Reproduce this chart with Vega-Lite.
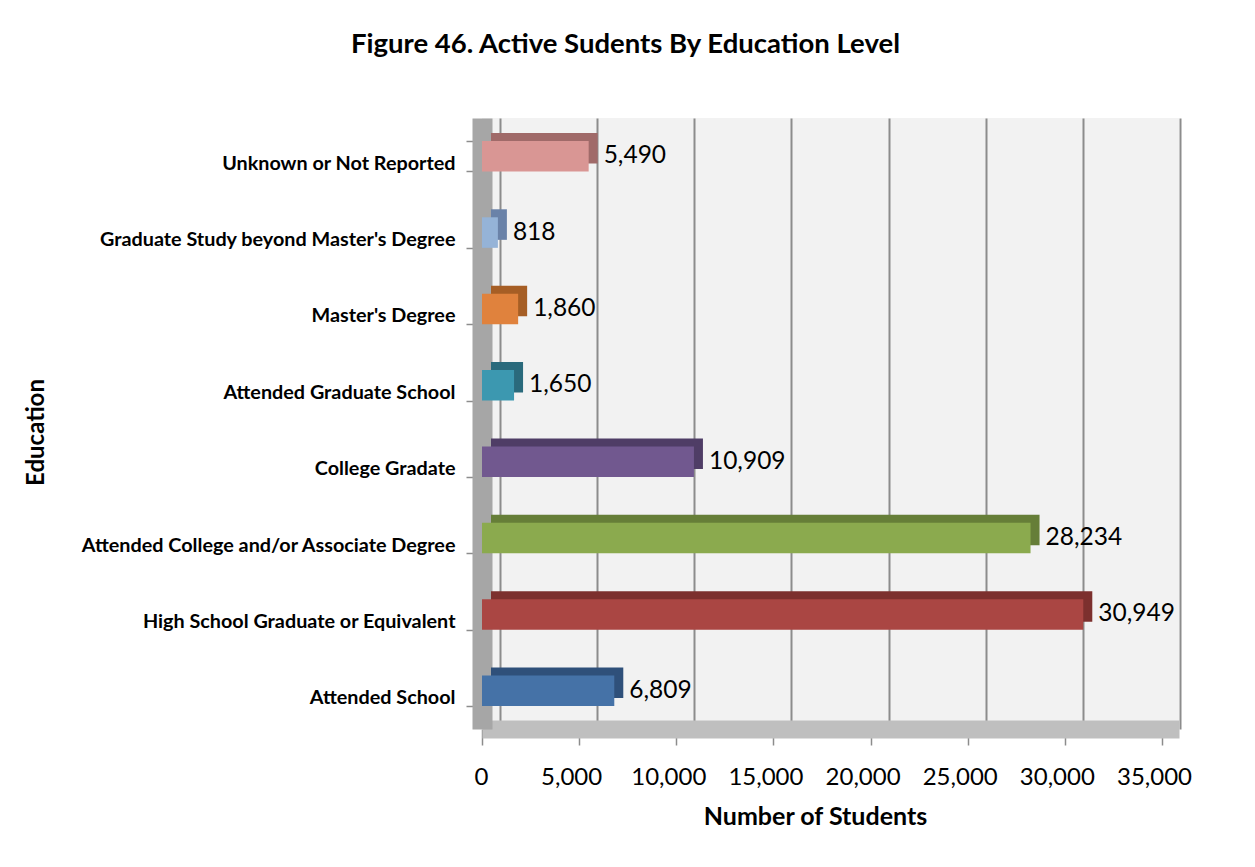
{
  "$schema": "https://vega.github.io/schema/vega-lite/v6.json",
  "autosize": "none",
  "width": 697,
  "height": 611,
  "padding": {"left": 482, "top": 118, "right": 76, "bottom": 138},
  "background": "white",
  "config": {
    "font": "Lato",
    "view": {"fill": "#f2f2f2", "stroke": null},
    "axis": {"labelLimit": 600}
  },
  "title": {
    "text": "Figure 46. Active Sudents By Education Level",
    "font": "Lato",
    "fontSize": 27.5,
    "fontWeight": "bold",
    "color": "#000000",
    "anchor": "middle",
    "frame": "group",
    "dx": -205,
    "offset": 50
  },
  "data": {
    "values": [
      {"education": "Unknown or Not Reported", "students": 5490},
      {"education": "Graduate Study beyond Master's Degree", "students": 818},
      {"education": "Master's Degree", "students": 1860},
      {"education": "Attended Graduate School", "students": 1650},
      {"education": "College Gradate", "students": 10909},
      {"education": "Attended College and/or Associate Degree", "students": 28234},
      {"education": "High School Graduate or Equivalent", "students": 30949},
      {"education": "Attended School", "students": 6809}
    ]
  },
  "resolve": {"scale": {"color": "independent"}, "axis": {"x": "independent"}},
  "layer": [
    {
      "mark": {"type": "bar", "xOffset": 9, "x2Offset": 9, "yOffset": -8, "y2Offset": -8},
      "encoding": {
        "y": {
          "field": "education", "type": "nominal", "sort": null,
          "scale": {"paddingInner": 0.6, "paddingOuter": 0.3},
          "axis": {
            "title": "Education", "titleFont": "Lato", "titleFontSize": 24, "titleFontWeight": "bold", "titleColor": "#000000", "titleX": -434, "titleY": 314,
            "labelFont": "Lato", "labelFontSize": 19.8, "labelFontWeight": "bold", "labelColor": "#000000", "labelLimit": 600,
            "labelOffset": 7, "labelPadding": 11,
            "tickBand": "extent", "tickSize": 16, "tickColor": "#8c8c8c", "tickWidth": 1.5,
            "domainColor": "#a6a6a6", "domainWidth": 20,
            "grid": false
          }
        },
        "x": {
          "field": "students", "type": "quantitative",
          "scale": {"domain": [0, 35875], "nice": false},
          "axis": {
            "orient": "bottom", "values": [0, 5000, 10000, 15000, 20000, 25000, 30000, 35000],
            "grid": true, "gridColor": "#8c8c8c", "gridWidth": 2, "tickOffset": 18,
            "labels": false, "ticks": false, "domain": false, "title": null
          }
        },
        "color": {
          "field": "education", "type": "nominal", "legend": null,
          "scale": {
            "domain": ["Unknown or Not Reported", "Graduate Study beyond Master's Degree", "Master's Degree", "Attended Graduate School", "College Gradate", "Attended College and/or Associate Degree", "High School Graduate or Equivalent", "Attended School"],
            "range": ["#a06a69", "#6a82a8", "#a65e25", "#2a6a7c", "#4f3d66", "#667e38", "#7c302e", "#2f507a"]
          }
        }
      }
    },
    {
      "mark": {"type": "bar"},
      "encoding": {
        "y": {
          "field": "education", "type": "nominal", "sort": null,
          "scale": {"paddingInner": 0.6, "paddingOuter": 0.3},
          "axis": {
            "title": "Education", "titleFont": "Lato", "titleFontSize": 24, "titleFontWeight": "bold", "titleColor": "#000000", "titleX": -434, "titleY": 314,
            "labelFont": "Lato", "labelFontSize": 19.8, "labelFontWeight": "bold", "labelColor": "#000000", "labelLimit": 600,
            "labelOffset": 7, "labelPadding": 11,
            "tickBand": "extent", "tickSize": 16, "tickColor": "#8c8c8c", "tickWidth": 1.5,
            "domainColor": "#a6a6a6", "domainWidth": 20,
            "grid": false
          }
        },
        "x": {
          "field": "students", "type": "quantitative",
          "scale": {"domain": [0, 35875], "nice": false},
          "axis": {
            "orient": "bottom", "values": [0, 5000, 10000, 15000, 20000, 25000, 30000, 35000],
            "format": ",d", "grid": false,
            "labelFont": "Lato", "labelFontSize": 24, "labelColor": "#000000", "labelOffset": -8, "labelPadding": 20,
            "tickSize": 16, "tickColor": "#8c8c8c", "tickWidth": 1.5,
            "domainColor": "#bfbfbf", "domainWidth": 18,
            "title": "Number of Students", "titleFont": "Lato", "titleFontSize": 25, "titleFontWeight": "bold", "titleColor": "#000000", "titlePadding": 15, "titleX": 333
          }
        },
        "color": {
          "field": "education", "type": "nominal", "legend": null,
          "scale": {
            "domain": ["Unknown or Not Reported", "Graduate Study beyond Master's Degree", "Master's Degree", "Attended Graduate School", "College Gradate", "Attended College and/or Associate Degree", "High School Graduate or Equivalent", "Attended School"],
            "range": ["#d99694", "#95b3d7", "#e0823d", "#3c98b0", "#71588f", "#8baa4e", "#aa4643", "#4572a7"]
          }
        }
      }
    },
    {
      "mark": {"type": "text", "align": "left", "baseline": "middle", "dx": 15, "font": "Lato", "fontSize": 24.5, "color": "#000000"},
      "encoding": {
        "y": {"field": "education", "type": "nominal", "sort": null},
        "x": {"field": "students", "type": "quantitative", "axis": null},
        "text": {"field": "students", "type": "quantitative", "format": ",d"}
      }
    }
  ]
}
